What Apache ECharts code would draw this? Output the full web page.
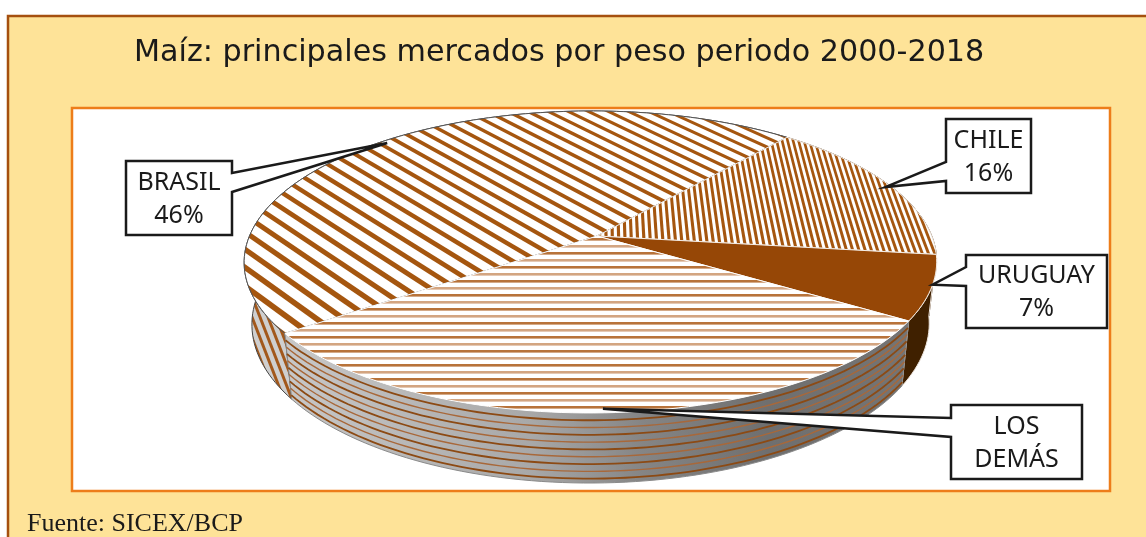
<!DOCTYPE html>
<html>
<head>
<meta charset="utf-8">
<title>Maíz: principales mercados</title>
<script src="https://cdn.jsdelivr.net/npm/echarts@6/dist/echarts.min.js"></script>
<style>
* { margin: 0; padding: 0; }
html, body { background: #fff; overflow: hidden; }
#main { width: 1146px; height: 537px; }
</style>
</head>
<body>
<div id="main"></div>
<script>
// values
const categories = ["BRASIL", "CHILE", "URUGUAY", "LOS DEMÁS"];
const shares = [46, 16, 7, 31];
const labelLines = ["BRASIL\n46%", "CHILE\n16%", "URUGUAY\n7%", "LOS\nDEMÁS"];
const chartTitle = "Maíz: principales mercados por peso periodo 2000-2018";
const sourceNote = "Fuente: SICEX/BCP";

const W = 1146;
const H = 537;
const BROWN = "#a5560f";

// tilted disc: unit circle -> screen, with a little perspective
const disc = { cx: 597, cy: 236, a: 341, b: 146.5, k: 0.172, j: 0.0187 };
const firstSliceAngle = 234; // clockwise from the back of the disc

function project(X, Y) {
  const w = 1 + disc.k * Y + disc.j * X;
  return [disc.cx + (disc.a * X) / w, disc.cy - (disc.b * Y) / w];
}
function rimPoint(deg) {
  const t = (deg * Math.PI) / 180;
  return project(Math.sin(t), Math.cos(t));
}
// bottom rim of the drum, seen from the same camera
function lowerPoint(p) {
  return [disc.cx + (p[0] - disc.cx) * 0.978, 296.5 + (p[1] - disc.cy) * 1.054];
}

const total = shares.reduce((s, v) => s + v, 0);
let acc = firstSliceAngle;
const sliceAngles = shares.map((v) => {
  const from = acc;
  acc += (v / total) * 360;
  return [from, acc];
});

function arc(from, to) {
  const pts = [];
  const n = Math.max(2, Math.ceil((to - from) / 1.5));
  for (let i = 0; i <= n; i++) pts.push(rimPoint(from + ((to - from) * i) / n));
  return pts;
}

// textures are painted in page coordinates so the stripes run across the slice
function newCanvas(bg) {
  const c = document.createElement("canvas");
  c.width = W;
  c.height = H;
  const ctx = c.getContext("2d");
  ctx.fillStyle = bg;
  ctx.fillRect(0, 0, W, H);
  return [c, ctx];
}
// stripes that are parallel on the disc, so they fan out on screen
function discStripes(angleDeg, period, duty, color) {
  const [c, ctx] = newCanvas("#fff");
  const t = (angleDeg * Math.PI) / 180;
  const dx = Math.cos(t), dy = Math.sin(t);
  const nx = -dy, ny = dx;
  ctx.fillStyle = color;
  for (let d = -1.4; d < 1.4; d += period) {
    const e = d + period * duty;
    const p = [
      project(nx * d - dx * 1.5, ny * d - dy * 1.5),
      project(nx * d + dx * 1.5, ny * d + dy * 1.5),
      project(nx * e + dx * 1.5, ny * e + dy * 1.5),
      project(nx * e - dx * 1.5, ny * e - dy * 1.5),
    ];
    ctx.beginPath();
    p.forEach((q, i) => (i ? ctx.lineTo(q[0], q[1]) : ctx.moveTo(q[0], q[1])));
    ctx.closePath();
    ctx.fill();
  }
  return { image: c, repeat: "no-repeat" };
}
function levelStripes() {
  const [c, ctx] = newCanvas("#fff");
  let odd = false;
  for (let y = 238; y < 420; y += 7) {
    ctx.fillStyle = odd ? "#d3a581" : "#b8733a";
    ctx.fillRect(0, y, W, 2.6);
    odd = !odd;
  }
  return { image: c, repeat: "no-repeat" };
}
function sideStripes() {
  const [c, ctx] = newCanvas("#cfcfcf");
  ctx.strokeStyle = "#a2581c";
  ctx.lineWidth = 3;
  for (let x = 150; x < 340; x += 8) {
    ctx.beginPath();
    ctx.moveTo(x, 240);
    ctx.lineTo(x + 70, 420);
    ctx.stroke();
  }
  return { image: c, repeat: "no-repeat" };
}

const topFills = [
  discStripes(-52, 0.055, 0.36, BROWN),
  discStripes(90, 0.0185, 0.5, BROWN),
  "#964706",
  levelStripes(),
];
const topStrokes = ["#555", "#f4ece4", "#f4ece4", "#fff"];

const sideGradient = {
  type: "linear", x: 283, y: 0, x2: 904, y2: 0, global: true,
  colorStops: [
    { offset: 0, color: "#c8c8c8" },
    { offset: 0.4, color: "#a8a8a8" },
    { offset: 0.58, color: "#858585" },
    { offset: 0.78, color: "#6f6f6f" },
    { offset: 1, color: "#747474" },
  ],
};
const sideFills = [sideStripes(), "#3f2000", "#3f2000", sideGradient];
const sideStrokes = ["#444", "#3f2000", "#ece4dc", "#8a8a8a"];

function renderSide(params) {
  const i = params.dataIndex;
  const upper = arc(sliceAngles[i][0], sliceAngles[i][1]);
  const lower = upper.map(lowerPoint);
  const children = [{
    type: "polygon",
    shape: { points: upper.concat(lower.slice().reverse()) },
    style: { fill: sideFills[i], stroke: sideStrokes[i], lineWidth: 1 },
  }];
  if (i === 3) {
    // curved bands round the drum
    for (let b = 1; b <= 9; b++) {
      const f = b / 9.6;
      children.push({
        type: "polyline",
        shape: {
          points: upper.map((p, n) => [
            p[0] + (lower[n][0] - p[0]) * f,
            p[1] + (lower[n][1] - p[1]) * f,
          ]),
        },
        style: {
          fill: "none",
          stroke: b % 2 ? "#8c4a14" : "#a8683a",
          lineWidth: b % 2 ? 1.8 : 1.4,
        },
      });
    }
  }
  return { type: "group", children };
}

function renderTop(params) {
  const i = params.dataIndex;
  const pts = [project(0, 0)].concat(arc(sliceAngles[i][0], sliceAngles[i][1]));
  return {
    type: "polygon",
    shape: { points: pts },
    style: { fill: topFills[i], stroke: topStrokes[i], lineWidth: 1 },
  };
}

// callout boxes: left, top, right, bottom, and where the wedge leaves the box
const calloutBoxes = [
  { box: [126, 161, 232, 235], side: "right", wedge: [173, 192], tip: [0, 3] },
  { box: [946, 119, 1031, 193], side: "left", wedge: [162, 181], tip: [-5, 1] },
  { box: [966, 255, 1107, 328], side: "left", wedge: [267, 286], tip: [1, -3] },
  { box: [951, 405, 1082, 479], side: "left", wedge: [418, 437], tip: [-7, -4] },
];

function renderCallout(params) {
  const i = params.dataIndex;
  const c = calloutBoxes[i];
  const [l, t, r, b] = c.box;
  const rim = rimPoint((sliceAngles[i][0] + sliceAngles[i][1]) / 2);
  const tip = [rim[0] + c.tip[0], rim[1] + c.tip[1]];
  const pts = c.side === "left"
    ? [[l, t], [r, t], [r, b], [l, b], [l, c.wedge[1]], tip, [l, c.wedge[0]]]
    : [[l, t], [r, t], [r, c.wedge[0]], tip, [r, c.wedge[1]], [r, b], [l, b]];
  return {
    type: "group",
    children: [
      {
        type: "polygon",
        shape: { points: pts },
        style: { fill: "#fff", stroke: "#1a1a1a", lineWidth: 2.5 },
      },
      {
        type: "text",
        style: {
          x: (l + r) / 2,
          y: (t + b) / 2 + 1,
          text: labelLines[i],
          fill: "#1a1a1a",
          fontFamily: "Noto Sans",
          fontSize: 25,
          lineHeight: 33,
          align: "center",
          verticalAlign: "middle",
        },
      },
    ],
  };
}

const myChart = echarts.init(document.getElementById("main"), null, { renderer: "canvas" });

const seriesData = categories.map((name, i) => ({ name, value: shares[i] }));

myChart.setOption({
  animation: false,
  backgroundColor: "#fff",
  title: {
    text: chartTitle,
    left: 129,
    top: 33,
    textStyle: { fontFamily: "DejaVu Sans", fontSize: 30.2, fontWeight: "normal", color: "#1a1a1a" },
  },
  graphic: [
    {
      type: "rect", z: 0,
      shape: { x: 8, y: 16, width: W + 20, height: H + 20 },
      style: { fill: "#fee398", stroke: "#a5500f", lineWidth: 2.5 },
    },
    {
      type: "rect", z: 1,
      shape: { x: 72, y: 108, width: 1038, height: 383 },
      style: { fill: "#fff", stroke: "#ed7d1a", lineWidth: 2.5 },
    },
    {
      type: "text", z: 1, x: 27, y: 511,
      style: { text: sourceNote, fill: "#1a1a1a", fontFamily: "Liberation Serif", fontSize: 26 },
    },
  ],
  series: [
    { type: "custom", coordinateSystem: "none", silent: true, z: 2, data: seriesData, renderItem: renderSide },
    { type: "custom", coordinateSystem: "none", silent: true, z: 3, data: seriesData, renderItem: renderTop },
    { type: "custom", coordinateSystem: "none", silent: true, z: 4, data: seriesData, renderItem: renderCallout },
  ],
});

window.addEventListener("resize", myChart.resize);
</script>
</body>
</html>
